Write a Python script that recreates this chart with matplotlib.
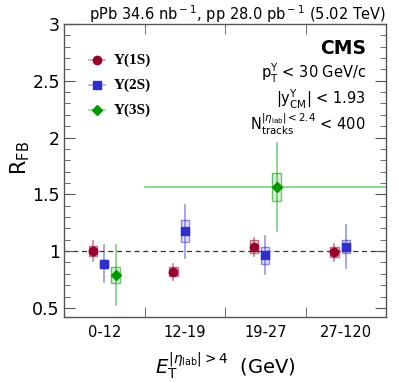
import matplotlib
matplotlib.use("Agg")
import matplotlib.pyplot as plt
from matplotlib.patches import Rectangle
from matplotlib.ticker import MultipleLocator, FixedLocator
import numpy as np

categories = ["0-12", "12-19", "19-27", "27-120"]

# Y(1S)
y1_val = [1.00, 0.82, 1.04, 0.99]
y1_stat = [0.09, 0.07, 0.08, 0.075]
y1_syst = [0.045, 0.04, 0.06, 0.045]
# Y(2S)
y2_val = [0.89, 1.175, 0.965, 1.04]
y2_stat = [0.16, 0.235, 0.17, 0.19]
y2_syst = [0.035, 0.095, 0.075, 0.057]
# Y(3S) (only in first and third bins)
y3_bins = [0, 2]
y3_val = [0.79, 1.565]
y3_stat = [0.265, 0.39]
y3_syst = [0.07, 0.12]

series = [
    ("Υ(1S)", list(range(4)), y1_val, y1_stat, y1_syst, "#99002e", "o", -0.14),
    ("Υ(2S)", list(range(4)), y2_val, y2_stat, y2_syst, "#2f2fd0", "s", 0.0),
    ("Υ(3S)", y3_bins, y3_val, y3_stat, y3_syst, "#009a00", "D", 0.14),
]

fig = plt.figure(figsize=(3.99, 3.83), dpi=100)
ax = fig.add_axes([64/399, 1-317/383, 322/399, 293/383])

ax.set_xlim(0, 4)
ax.set_ylim(0.42, 3.0)

ax.axhline(1.0, color="#333333", ls=(0, (4, 3)), lw=0.9, zorder=1)

bw = 0.105
for name, bins, vals, stat, syst, col, mk, off in series:
    xs = np.array(bins) + 0.5 + off
    for x, v, s, sy in zip(xs, vals, stat, syst):
        ax.add_patch(Rectangle((x - bw/2, v - sy), bw, 2*sy, facecolor=col, alpha=0.15,
                               edgecolor="none", zorder=2))
        ax.add_patch(Rectangle((x - bw/2, v - sy), bw, 2*sy, facecolor="none",
                               edgecolor=col, alpha=0.55, lw=1.0, zorder=2))
        ax.plot([x, x], [v - s, v + s], color=col, alpha=0.5, lw=1.2, zorder=3)
    ms = 6.0 if mk != "D" else 5.0
    ax.plot(xs, vals, ls="none", marker=mk, color=col, ms=ms, zorder=4)

# green horizontal x-error of Y(3S) in 19-27 bin
ax.plot([1.0, 4.0], [y3_val[1], y3_val[1]], color="#009a00", alpha=0.5, lw=1.2, zorder=3)

# axes style
for sp in ax.spines.values():
    sp.set_color("#555555")
    sp.set_linewidth(1.0)

ax.set_xticks([0.5, 1.5, 2.5, 3.5])
ax.set_xticklabels(categories, fontsize=10.5)
ax.tick_params(axis="x", which="major", length=0, pad=6)
ax.xaxis.set_minor_locator(FixedLocator([1, 2, 3]))
ax.tick_params(axis="x", which="minor", direction="in", length=7, top=True, bottom=True,
               color="#555555")

ax.yaxis.set_major_locator(FixedLocator([0.5, 1, 1.5, 2, 2.5, 3]))
ax.set_yticklabels(["0.5", "1", "1.5", "2", "2.5", "3"], fontsize=12.5)
ax.yaxis.set_minor_locator(MultipleLocator(0.1))
ax.tick_params(axis="y", which="major", direction="in", length=8, left=True, right=True,
               color="#555555", pad=3)
ax.tick_params(axis="y", which="minor", direction="in", length=4, left=True, right=True,
               color="#555555")

fig.text(20/399, 1-158/383, "R$_{\\rm FB}$", fontsize=15, rotation=90,
         ha="center", va="center")
fig.text(225/399, 1-366/383, "$E_{\\rm T}^{|\\eta_{\\rm lab}| > 4}$  (GeV)", fontsize=14,
         ha="center", va="center")

fig.text(386/399, 1-14/383,
         "pPb 34.6 nb$^{\\rm -1}$, pp 28.0 pb$^{\\rm -1}$ (5.02 TeV)",
         fontsize=10.5, ha="right", va="center")

# legend
leg_y = [60, 85, 110]
for (name, bins, vals, stat, syst, col, mk, off), yy in zip(series, leg_y):
    yd = 1 - yy/383
    xd = 97/399
    fig.lines.append(plt.Line2D([xd - 0.02, xd + 0.02], [yd, yd], color=col, alpha=0.4,
                                lw=1.2, transform=fig.transFigure))
    fig.lines.append(plt.Line2D([xd], [yd], marker=mk, color=col, ms=6 if mk != "D" else 5,
                                transform=fig.transFigure))
    fig.text(114/399, yd, name, fontsize=11, ha="left", va="center",
             family="Liberation Serif", weight="bold")

# CMS and selection text
fig.text(366/399, 1-48/383, "CMS", fontsize=13.5, weight="bold", ha="right", va="center")
fig.text(366/399, 1-73/383, "p$_{\\rm T}^{\\Upsilon}$ < 30 GeV/c", fontsize=10.5,
         ha="right", va="center")
fig.text(366/399, 1-99/383, "|y$_{\\rm CM}^{\\Upsilon}$| < 1.93", fontsize=10.5,
         ha="right", va="center")
fig.text(366/399, 1-124/383, "N$_{\\rm tracks}^{|\\eta_{\\rm lab}|<2.4}$ < 400", fontsize=10.5,
         ha="right", va="center")

fig.savefig("out.png", dpi=100)
